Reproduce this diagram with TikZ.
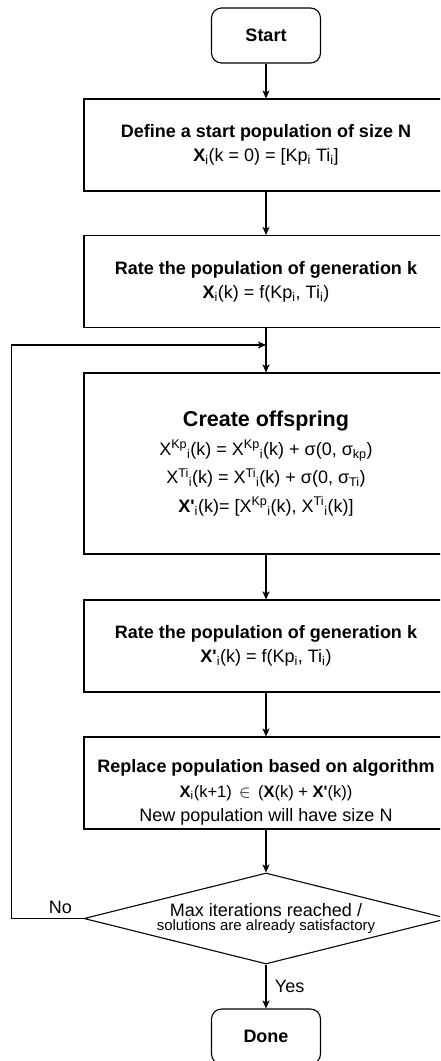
\documentclass[tikz,border=0pt]{standalone}
\usepackage{fontspec}
\setmainfont{Liberation Sans}
\usetikzlibrary{arrows.meta,shapes.geometric}

\tikzset{
  flowline/.style={line width=1.1pt, -{Stealth[length=8pt,width=7pt,inset=2pt]}},
  termbox/.style={draw, line width=1.1pt, rounded corners=10pt, minimum width=109pt,
    minimum height=55pt, inner sep=0pt, font=\fontsize{18}{22}\selectfont\bfseries},
  stepbox/.style={draw, line width=1.1pt, minimum width=364pt, minimum height=92pt,
    inner sep=0pt, align=center, font=\fontsize{18}{24}\selectfont},
  decision/.style={draw, diamond, line width=1.1pt, minimum width=364pt,
    minimum height=91pt, inner sep=0pt},
  answer/.style={font=\fontsize{18}{22}\selectfont},
}

\begin{document}
\begin{tikzpicture}[x=1pt,y=1pt]
  \useasboundingbox (0,0) rectangle (440,-1061);
  \clip (0,0) rectangle (440,-1061);

  % ---- boxes, top to bottom ----
  \node[termbox] (start) at (266,-35.5) {Start};
  \node[stepbox] (init) at (266,-145)
    {\textbf{Define a start population of size N}\\
     \textbf{X}\textsubscript{i}(k = 0) = [Kp\textsubscript{i} Ti\textsubscript{i}]};
  \node[stepbox] (rate) at (266,-281.5)
    {\textbf{Rate the population of generation k}\\
     \textbf{X}\textsubscript{i}(k) = f(Kp\textsubscript{i}, Ti\textsubscript{i})};
  \node[stepbox, minimum height=181pt, font=\fontsize{18}{28.5}\selectfont] (offspring) at (266,-463.5)
    {{\fontsize{21.5}{28.5}\selectfont\bfseries Create offspring}\\
     X\textsuperscript{Kp}\textsubscript{i}(k) = X\textsuperscript{Kp}\textsubscript{i}(k) + σ(0, σ\textsubscript{kp})\\
     X\textsuperscript{Ti}\textsubscript{i}(k) = X\textsuperscript{Ti}\textsubscript{i}(k) + σ(0, σ\textsubscript{Ti})\\
     \textbf{X\textquotesingle}\textsubscript{i}(k)= [X\textsuperscript{Kp}\textsubscript{i}(k), X\textsuperscript{Ti}\textsubscript{i}(k)]};
  \node[stepbox] (rerate) at (266,-646)
    {\textbf{Rate the population of generation k}\\
     \textbf{X\textquotesingle}\textsubscript{i}(k) = f(Kp\textsubscript{i}, Ti\textsubscript{i})};
  % text sits low in this one, as in the drawing
  \node[stepbox] (replace) at (266,-783)
    {\rule{0pt}{31pt}\textbf{Replace population based on algorithm}\\[1pt]
     \fontsize{16.5}{23}\selectfont
     \textbf{X}\textsubscript{i}(k+1) \,$\in$\, (\textbf{X}(k) + \textbf{X\textquotesingle}(k))\\
     New population will have size N};
  \node[decision] (check) at (266,-918.5) {};
  \node[align=center, inner sep=0pt] (checktext) at (check.center)
    {\fontsize{18}{20}\selectfont Max iterations reached /\\[1.5pt]
     \fontsize{15}{19}\selectfont solutions are already satisfactory};
  \node[termbox] (done) at (266,-1036.5) {Done};

  % ---- connectors ----
  \coordinate (merge) at (266,-345);
  \draw[flowline] (start) -- (init);
  \draw[flowline] (init) -- (rate);
  \draw[flowline] (rate) -- (offspring);
  \draw[flowline] (offspring) -- (rerate);
  \draw[flowline] (rerate) -- (replace);
  \draw[flowline] (replace) -- (check.north);
  \draw[flowline] (check.south) -- node[answer, midway, right=5pt] {Yes} (done);
  % loop back when not finished
  \draw[flowline] (check.west) -- node[answer, pos=0.32, above=1pt] {No} ++(-72,0) |- (merge);
\end{tikzpicture}
\end{document}
